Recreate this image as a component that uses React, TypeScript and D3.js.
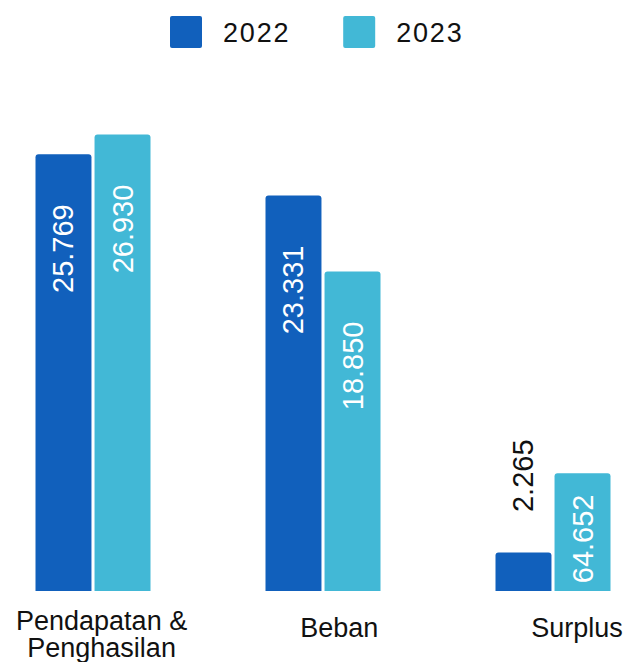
import React from "react";
import * as d3 from "d3";

const categories: string[][] = [["Pendapatan &", "Penghasilan"], ["Beban"], ["Surplus"]];
const seriesNames = ["2022", "2023"];
const values2022 = [25.769, 23.331, 2.265];
const values2023 = [26.93, 18.85, 6.945];
const labels2022 = ["25.769", "23.331", "2.265"];
const labels2023 = ["26.930", "18.850", "64.652"];

const COLORS = ["#1160bc", "#42b8d6"];
const FONT = "'Liberation Sans', Arial, Helvetica, sans-serif";
const W = 627;
const H = 662;

function topRoundedRect(x: number, y: number, w: number, h: number, r: number) {
  const rr = Math.min(r, h / 2, w / 2);
  return `M${x},${y + h}V${y + rr}Q${x},${y} ${x + rr},${y}H${x + w - rr}Q${x + w},${y} ${x + w},${y + rr}V${y + h}Z`;
}

export default function App() {
  const catKeys = categories.map((c) => c.join(" "));
  const x0 = d3.scaleBand<string>().domain(catKeys).range([-22, 668]).paddingInner(0).paddingOuter(0);
  const x1 = d3.scaleBand<string>().domain(seriesNames).range([0, 115]).paddingInner(0.052).paddingOuter(0);
  const xLabel = d3.scalePoint<string>().domain(catKeys).range([101.6, 577]);
  const y = d3.scaleLinear().domain([0, 30]).range([591, 591 - 30 * 16.947]);

  const series = [
    { name: seriesNames[0], values: values2022, labels: labels2022, color: COLORS[0] },
    { name: seriesNames[1], values: values2023, labels: labels2023, color: COLORS[1] },
  ];

  const valueFs = 29;
  const bw = x1.bandwidth();

  return (
    <svg width={W} height={H} style={{ position: "absolute", left: 0, top: 0, fontFamily: FONT }}>
      <rect width={W} height={H} fill="#fff" />
      {/* legend */}
      {series.map((s, i) => {
        const lx = 170 + i * 173.2;
        return (
          <g key={s.name}>
            <rect x={lx} y={16} width={32} height={32} rx={2} fill={s.color} />
            <text x={lx + 53} y={42.3} fontSize={27} letterSpacing={1.8} fill="#111">
              {s.name}
            </text>
          </g>
        );
      })}
      {/* bars */}
      {catKeys.map((cat, ci) => {
        const gx = (x0(cat) as number) + x0.bandwidth() / 2 - 57.5;
        return (
          <g key={cat}>
            {series.map((s) => {
              const v = s.values[ci];
              const bx = gx + (x1(s.name) as number);
              const top = y(v);
              const h = y(0) - top;
              const label = s.labels[ci];
              const L = label.length * 0.52 * valueFs;
              const cx = bx + bw / 2;
              const inside = h > L + 20;
              let labelEl;
              if (inside) {
                const off = Math.min(50, h - L - 6);
                labelEl = (
                  <text
                    transform={`translate(${cx},${top + off}) rotate(-90)`}
                    textAnchor="end"
                    dominantBaseline="central"
                    fontSize={valueFs}
                    fill="#fff"
                  >
                    {label}
                  </text>
                );
              } else {
                labelEl = (
                  <text
                    transform={`translate(${cx},${top - 40.6}) rotate(-90)`}
                    textAnchor="start"
                    dominantBaseline="central"
                    fontSize={valueFs}
                    fill="#111"
                  >
                    {label}
                  </text>
                );
              }
              return (
                <g key={s.name}>
                  <path d={topRoundedRect(bx, top, bw, h, 3)} fill={s.color} />
                  {labelEl}
                </g>
              );
            })}
          </g>
        );
      })}
      {/* category labels */}
      {categories.map((lines, ci) => {
        const cx = xLabel(catKeys[ci]) as number;
        const base = lines.length > 1 ? 630 : 637.3;
        return (
          <text key={ci} textAnchor="middle" fontSize={27} fill="#111">
            {lines.map((ln, li) => (
              <tspan key={li} x={cx} y={base + li * 27}>
                {ln}
              </tspan>
            ))}
          </text>
        );
      })}
    </svg>
  );
}
